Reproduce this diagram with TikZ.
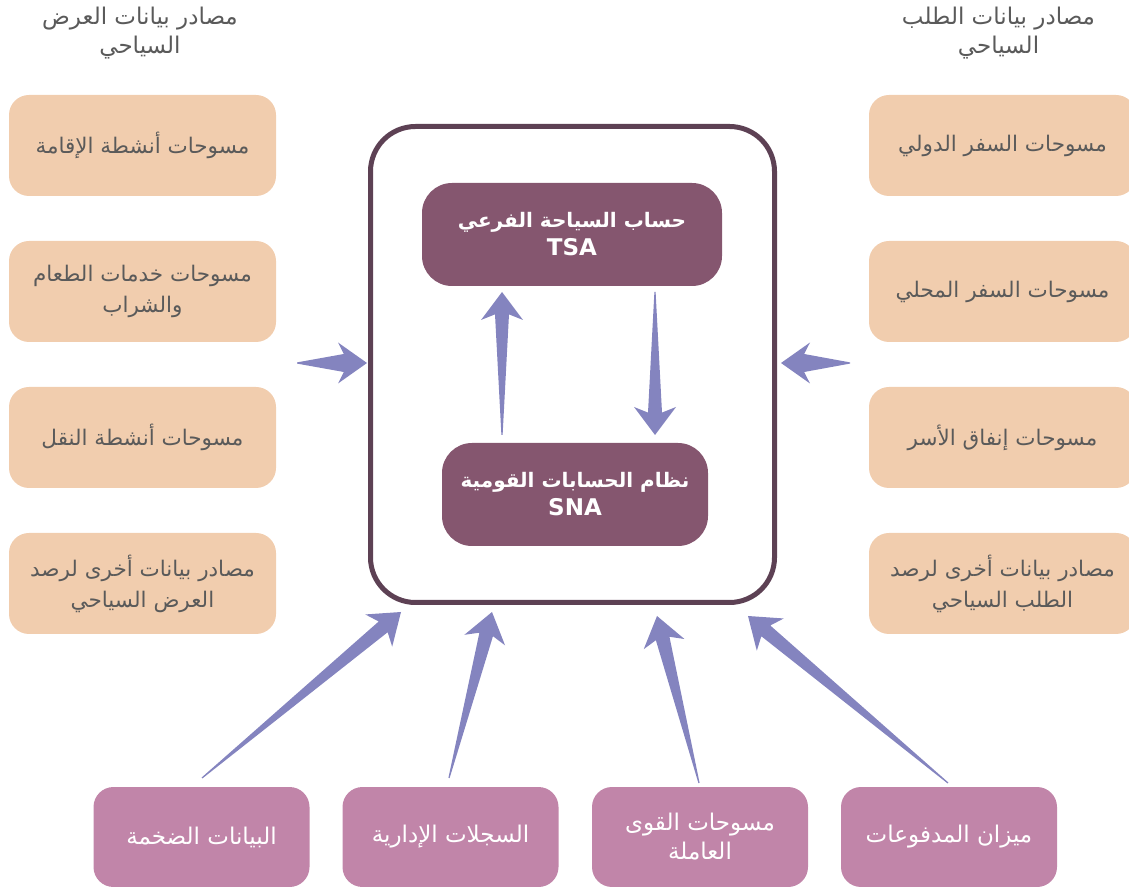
\documentclass[tikz,border=0pt]{standalone}
\usepackage{fontspec}
\setmainfont{DejaVu Sans}
\newfontfamily\arabicfont[Script=Arabic]{DejaVu Sans}
\TeXXeTstate=1
\usetikzlibrary{calc, positioning}
\definecolor{peach}{HTML}{F1CDAE}
\definecolor{textGray}{HTML}{5A5A5A}
\definecolor{plum}{HTML}{85566F}
\definecolor{frameDark}{HTML}{5D4154}
\definecolor{mauve}{HTML}{C185A9}
\definecolor{arrowBlue}{HTML}{8484BF}
\newcommand{\rtl}[1]{{\arabicfont\beginR #1\endR}}
% tail, tip, shaft half width, head half width, head length
\newcommand{\taperarrow}[5]{%
    \coordinate (tA) at (#1);
    \coordinate (tB) at (#2);
    \coordinate (tH) at ($(tB)!#5!(tA)$);
    \coordinate (tJ) at ($(tB)!0.8!(tH)$);
    \fill[arrowBlue] ($(tA)!0.6pt!90:(tB)$) -- ($(tJ)!#3!90:(tB)$) -- ($(tH)!#4!90:(tB)$) -- (tB)
        -- ($(tH)!#4!-90:(tB)$) -- ($(tJ)!#3!-90:(tB)$) -- ($(tA)!0.6pt!-90:(tB)$) -- cycle;
}

\begin{document}
\begin{tikzpicture}[x=1pt, y=1pt,
    supbox/.style={fill=peach, rounded corners=20pt, minimum width=267pt, minimum height=101pt,
        align=center, text=textGray, font=\fontsize{21.5}{31}\selectfont},
    srcbox/.style={fill=mauve, rounded corners=20pt, minimum width=216pt, minimum height=100pt,
        align=center, text=white, font=\fontsize{23}{29}\selectfont},
    accbox/.style={fill=plum, rounded corners=30pt, minimum height=103pt,
        align=center, text=white, font=\bfseries\fontsize{20}{28}\selectfont},
    heading/.style={align=center, text=textGray, font=\fontsize{23}{29}\selectfont}]
    \useasboundingbox (0,0) rectangle (1129,886);

    % Headings
    \node[heading] (supHead) at (140,853) {\rtl{مصادر بيانات العرض}\\\rtl{السياحي}};
    \node[heading] (demHead) at (998.5,853) {\rtl{مصادر بيانات الطلب}\\\rtl{السياحي}};

    % Supply side
    \node[supbox] (sup1) at (142.5,740.5) {\rtl{مسوحات أنشطة الإقامة}};
    \node[supbox] (sup2) at (142.5,594.5) {\rtl{مسوحات خدمات الطعام}\\\rtl{والشراب}};
    \node[supbox] (sup3) at (142.5,448.5) {\rtl{مسوحات أنشطة النقل}};
    \node[supbox] (sup4) at (142.5,302.5) {\rtl{مصادر بيانات أخرى لرصد}\\\rtl{العرض السياحي}};

    % Demand side
    \node[supbox] (dem1) at (1002.5,740.5) {\rtl{مسوحات السفر الدولي}};
    \node[supbox] (dem2) at (1002.5,594.5) {\rtl{مسوحات السفر المحلي}};
    \node[supbox] (dem3) at (1002.5,448.5) {\rtl{مسوحات إنفاق الأسر}};
    \node[supbox] (dem4) at (1002.5,302.5) {\rtl{مصادر بيانات أخرى لرصد}\\\rtl{الطلب السياحي}};

    % Accounts
    \node[draw=frameDark, line width=5pt, rounded corners=45pt, minimum width=404pt, minimum height=476pt]
        (frame) at (572.5,521.5) {};
    \node[accbox, minimum width=300pt] (tsa) at (572,651.5) {\rtl{حساب السياحة الفرعي}\\{\fontsize{23}{28}\selectfont TSA}};
    \node[accbox, minimum width=266pt] (sna) at (575,391.5) {\rtl{نظام الحسابات القومية}\\{\fontsize{23}{28}\selectfont SNA}};

    % Other sources
    \node[srcbox] (src1) at (201.5,49) {\rtl{البيانات الضخمة}};
    \node[srcbox] (src2) at (450.5,49) {\rtl{السجلات الإدارية}};
    \node[srcbox] (src3) at (700,49) {\rtl{مسوحات القوى}\\\rtl{العاملة}};
    \node[srcbox] (src4) at (949,49) {\rtl{ميزان المدفوعات}};

    % Arrow ends
    \coordinate (supOut) at (297,523);
    \coordinate (supIn) at (367,523);
    \coordinate (demOut) at (850,523);
    \coordinate (demIn) at (781,523);
    \coordinate (snaOut) at (502,451);
    \coordinate (tsaIn) at (502,594);
    \coordinate (tsaOut) at (655,594);
    \coordinate (snaIn) at (655,451);
    \coordinate (src1Out) at (202,108);
    \coordinate (src1In) at (401,274);
    \coordinate (src2Out) at (449,108);
    \coordinate (src2In) at (492,274);
    \coordinate (src3Out) at (699,103);
    \coordinate (src3In) at (657,270);
    \coordinate (src4Out) at (948,103);
    \coordinate (src4In) at (748,270);

    % Arrows
    \taperarrow{supOut}{supIn}{9pt}{20.5pt}{29pt}
    \taperarrow{demOut}{demIn}{9pt}{20.5pt}{29pt}
    \taperarrow{snaOut}{tsaIn}{7pt}{21pt}{28pt}
    \taperarrow{tsaOut}{snaIn}{7pt}{21pt}{28pt}
    \taperarrow{src1Out}{src1In}{7pt}{21pt}{29pt}
    \taperarrow{src2Out}{src2In}{7pt}{21pt}{29pt}
    \taperarrow{src3Out}{src3In}{7pt}{21pt}{29pt}
    \taperarrow{src4Out}{src4In}{7pt}{21pt}{29pt}
\end{tikzpicture}
\end{document}
